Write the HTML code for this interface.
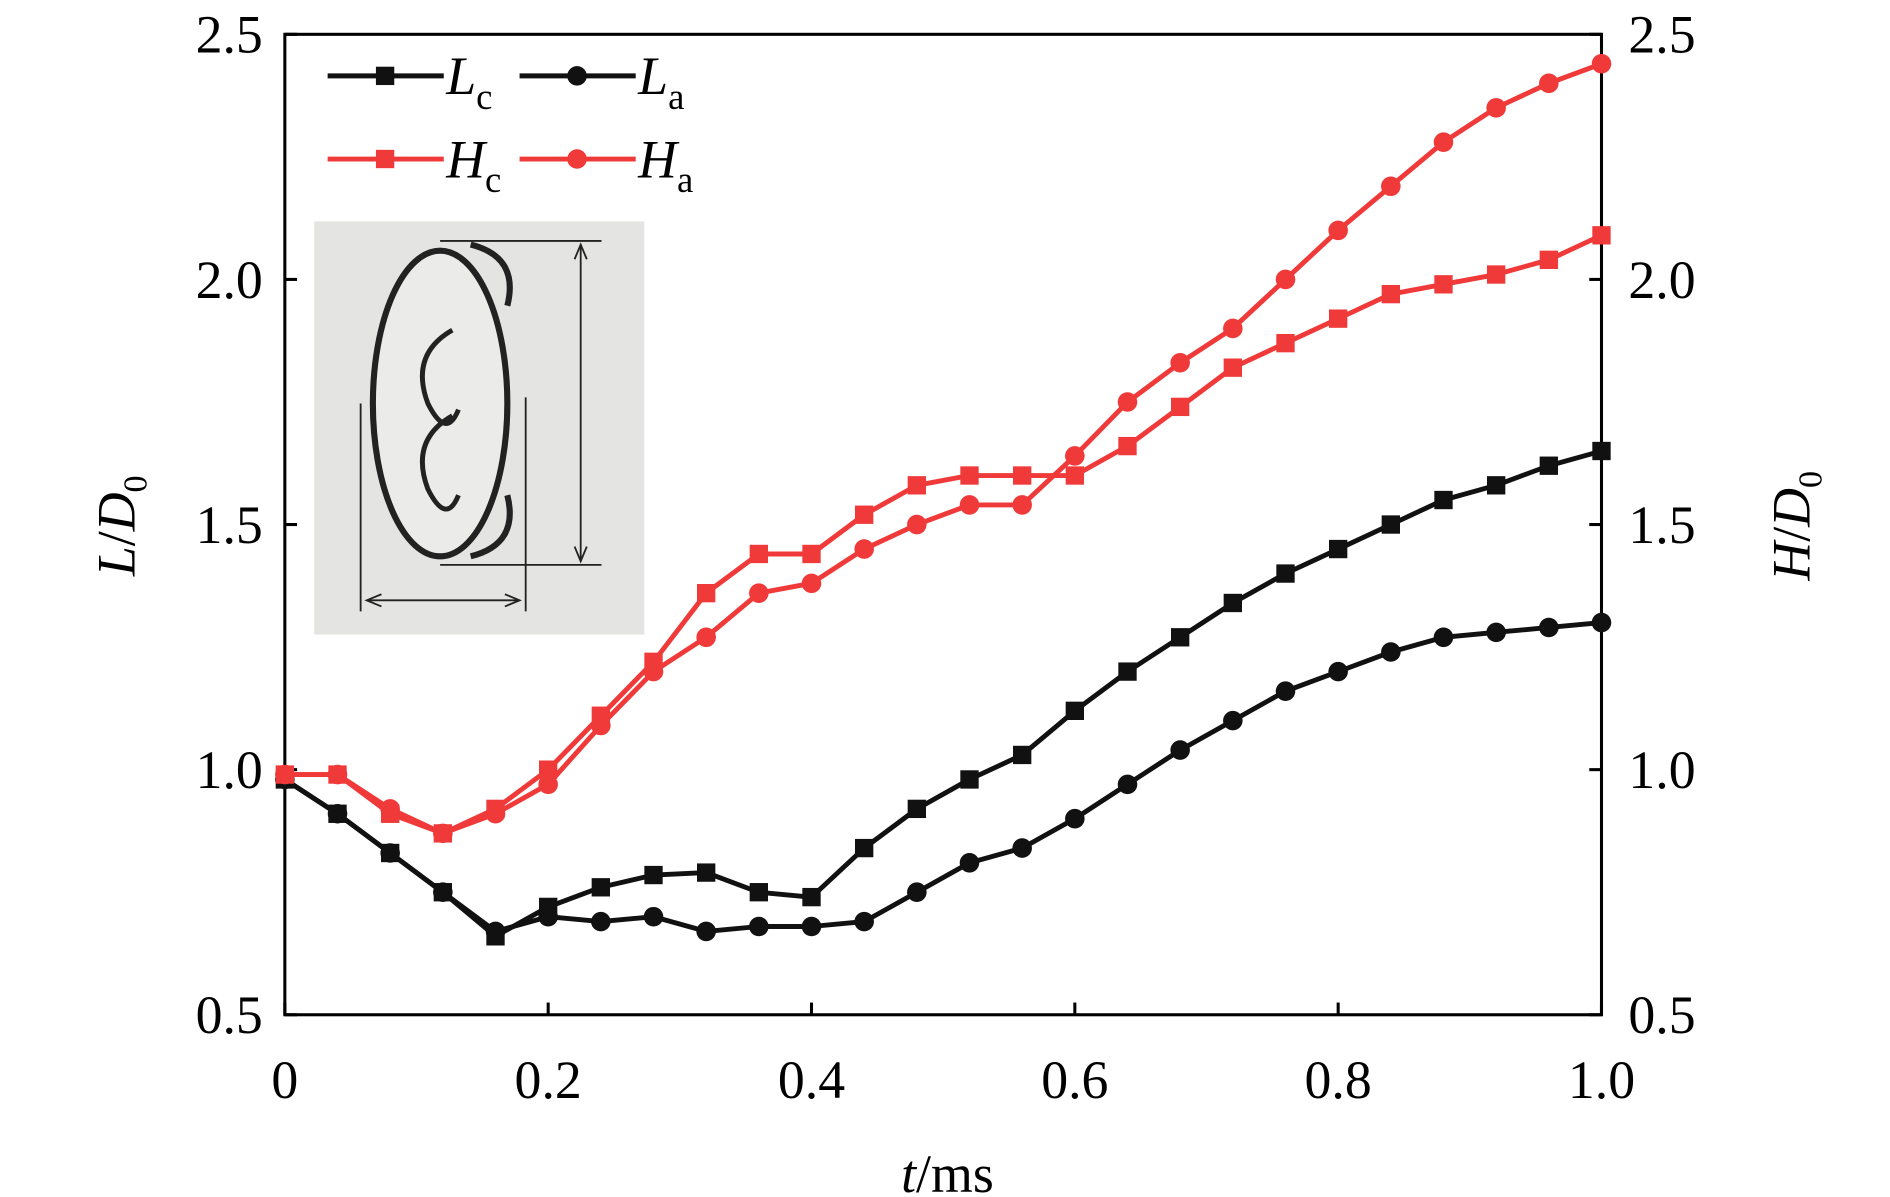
<!DOCTYPE html>
<html><head><meta charset="utf-8"><style>
html,body{margin:0;padding:0;background:#fff;}
svg{display:block;font-family:"Liberation Serif",serif;}
</style></head><body>
<svg id="chart" width="1890" height="1197" viewBox="0 0 1546 979" xmlns="http://www.w3.org/2000/svg">
<rect width="1546" height="979" fill="#fff"/>
<g id="inset">
<rect x="257" y="181" width="270" height="338" fill="#e4e4e2"/>
<ellipse cx="360" cy="330" rx="55" ry="125" fill="#ebebe9" stroke="#222" stroke-width="5"/>
<path d="M370 270 q-35 20 -20 60 q15 30 25 5" fill="none" stroke="#222" stroke-width="4"/>
<path d="M370 340 q-35 20 -20 60 q15 30 25 5" fill="none" stroke="#222" stroke-width="4"/>
<path d="M385 200 q40 10 30 50 M385 455 q40 -10 30 -50" fill="none" stroke="#222" stroke-width="5"/>
<line x1="360" y1="197" x2="492" y2="197" stroke="#222" stroke-width="1.5"/>
<line x1="360" y1="462" x2="492" y2="462" stroke="#222" stroke-width="1.5"/>
<line x1="475" y1="200" x2="475" y2="459" stroke="#222" stroke-width="1.5"/>
<path d="M470 212 L475 200 L480 212 M470 447 L475 459 L480 447" fill="none" stroke="#222" stroke-width="1.5"/>
<line x1="295" y1="330" x2="295" y2="500" stroke="#222" stroke-width="1.5"/>
<line x1="430" y1="325" x2="430" y2="500" stroke="#222" stroke-width="1.5"/>
<line x1="300" y1="491" x2="425" y2="491" stroke="#222" stroke-width="1.5"/>
<path d="M312 486 L300 491 L312 496 M413 486 L425 491 L413 496" fill="none" stroke="#222" stroke-width="1.5"/>
</g>
<g id="axes"></g>
<g id="series"></g>
<g id="legend"></g>
</svg>
<script>
const tVals=[0,0.04,0.08,0.12,0.16,0.20,0.24,0.28,0.32,0.36,0.40,0.44,0.48,0.52,0.56,0.60,0.64,0.68,0.72,0.76,0.80,0.84,0.88,0.92,0.96,1.0];
const Lc=[0.98,0.91,0.83,0.75,0.66,0.72,0.76,0.785,0.79,0.75,0.74,0.84,0.92,0.98,1.03,1.12,1.20,1.27,1.34,1.40,1.45,1.50,1.55,1.58,1.62,1.65];
const La=[0.98,0.91,0.83,0.75,0.67,0.70,0.69,0.70,0.67,0.68,0.68,0.69,0.75,0.81,0.84,0.90,0.97,1.04,1.10,1.16,1.20,1.24,1.27,1.28,1.29,1.30];
const Hc=[0.99,0.99,0.91,0.87,0.92,1.00,1.11,1.22,1.36,1.44,1.44,1.52,1.58,1.60,1.60,1.60,1.66,1.74,1.82,1.87,1.92,1.97,1.99,2.01,2.04,2.09];
const Ha=[0.99,0.99,0.92,0.87,0.91,0.97,1.09,1.20,1.27,1.36,1.38,1.45,1.50,1.54,1.54,1.64,1.75,1.83,1.90,2.00,2.10,2.19,2.28,2.35,2.40,2.44];
const xTicks=[0,0.2,0.4,0.6,0.8,1.0];
const xTickLabels=["0","0.2","0.4","0.6","0.8","1.0"];
const yTicks=[0.5,1.0,1.5,2.0,2.5];
const yTickLabels=["0.5","1.0","1.5","2.0","2.5"];
const NS="http://www.w3.org/2000/svg";
const X0=233,X1=1310,Y0=830,Y1=28;
function xs(v){return X0+(v-0)/(1-0)*(X1-X0);}
function ys(v){return Y0-(v-0.5)/(2.5-0.5)*(Y0-Y1);}
function mk(tag,attrs,parent){const e=document.createElementNS(NS,tag);for(const k in attrs)e.setAttribute(k,attrs[k]);parent.appendChild(e);return e;}
const axes=document.getElementById('axes');
const frame=mk('rect',{x:X0,y:Y1,width:X1-X0,height:Y0-Y1,fill:'none',stroke:'#000','stroke-width':2.5},axes);


xTicks.forEach((v,i)=>{
  const l=mk('line',{x1:xs(v),x2:xs(v),y1:Y0,y2:Y0-10,stroke:'#000','stroke-width':2.5},axes);
  
  
  const t=mk('text',{x:xs(v),y:Y0+68,'text-anchor':'middle','font-size':44},axes);
  t.textContent=xTickLabels[i];
  
  
});
yTicks.forEach((v,i)=>{
  const l=mk('line',{x1:X0,x2:X0+10,y1:ys(v),y2:ys(v),stroke:'#000','stroke-width':2.5},axes);
  
  
  const r=mk('line',{x1:X1,x2:X1-10,y1:ys(v),y2:ys(v),stroke:'#000','stroke-width':2.5},axes);
  
  
  const t=mk('text',{x:X0-18,y:ys(v)+15,'text-anchor':'end','font-size':44},axes);
  t.textContent=yTickLabels[i];
  
  
  const t2=mk('text',{x:X1+22,y:ys(v)+15,'text-anchor':'start','font-size':44},axes);
  t2.textContent=yTickLabels[i];
  
  
});
const xt=mk('text',{x:775,y:975,'text-anchor':'middle','font-size':44},axes);
xt.innerHTML='<tspan font-style="italic">t</tspan>/ms';


const yl=mk('text',{transform:'translate(110,430) rotate(-90)','text-anchor':'middle','font-size':44},axes);
yl.innerHTML='<tspan font-style="italic">L</tspan>/<tspan font-style="italic">D</tspan><tspan font-size="28" dy="10">0</tspan>';


const yr=mk('text',{transform:'translate(1480,430) rotate(-90)','text-anchor':'middle','font-size':44},axes);
yr.innerHTML='<tspan font-style="italic">H</tspan>/<tspan font-style="italic">D</tspan><tspan font-size="28" dy="10">0</tspan>';


const ser=document.getElementById('series');
function marker(g,x,y,shape,color){
  let m;
  if(shape==='sq') m=mk('rect',{x:x-7.5,y:y-7.5,width:15,height:15,fill:color},g);
  else m=mk('circle',{cx:x,cy:y,r:8,fill:color},g);
  return m;
}
function drawSeries(vals,color,shape,name){
  const g=mk('g',{},ser);
  
  
  const d=vals.map((v,i)=>(i?'L':'M')+xs(tVals[i]).toFixed(1)+' '+ys(v).toFixed(1)).join(' ');
  const p=mk('path',{d:d,fill:'none',stroke:color,'stroke-width':4,'stroke-linejoin':'round'},g);
  
  
  vals.forEach((v,i)=>{
    const m=marker(g,xs(tVals[i]),ys(v),shape,color);
    
    
  });
}
drawSeries(Lc,'#111','sq','series-lc');
drawSeries(La,'#111','ci','series-la');
drawSeries(Hc,'#f03a3a','sq','series-hc');
drawSeries(Ha,'#f03a3a','ci','series-ha');
const lg=document.getElementById('legend');
const entries=[[268,62,'#111','sq','L','c'],[425,62,'#111','ci','L','a'],[268,130,'#f03a3a','sq','H','c'],[425,130,'#f03a3a','ci','H','a']];
entries.forEach(e=>{
  const g=mk('g',{},lg);
  
  
  mk('line',{x1:e[0],x2:e[0]+95,y1:e[1],y2:e[1],stroke:e[2],'stroke-width':4},g);
  marker(g,e[0]+47,e[1],e[3],e[2]);
  const t=mk('text',{x:e[0]+97,y:e[1]+15,'font-size':44},g);
  t.innerHTML='<tspan font-style="italic">'+e[4]+'</tspan><tspan font-size="30" dy="12">'+e[5]+'</tspan>';
});
</script>
</body></html>
